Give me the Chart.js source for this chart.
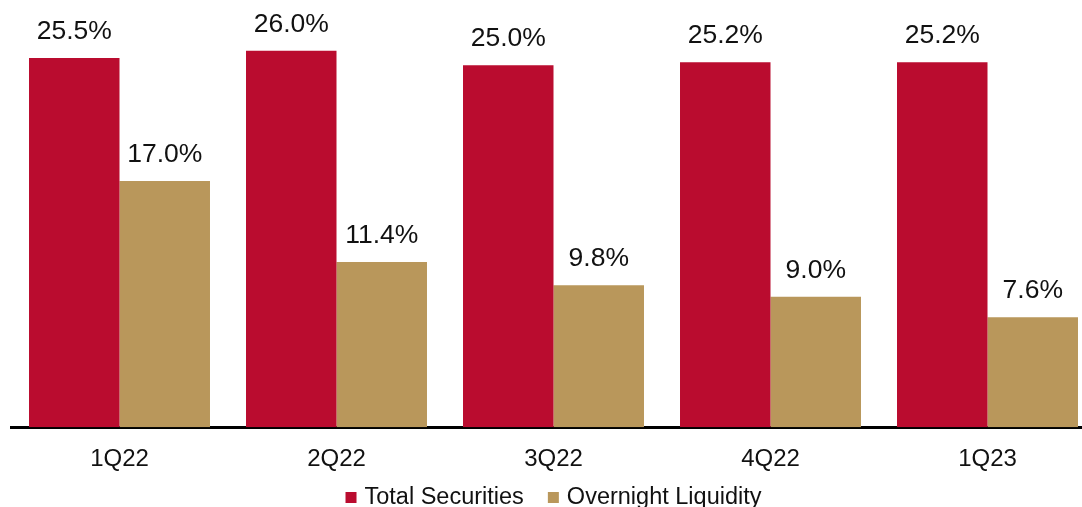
<!DOCTYPE html>
<html>
<head>
<meta charset="utf-8">
<script src="https://cdn.jsdelivr.net/npm/chart.js@4.4.0/dist/chart.umd.min.js"></script>
<style>
  html, body { margin: 0; padding: 0; background: #fff; overflow: hidden; }
  #chart { display: block; }
</style>
</head>
<body>
<canvas id="chart" width="1096" height="507"></canvas>
<script>
// ---------------- Data ----------------
const quarters = ["1Q22", "2Q22", "3Q22", "4Q22", "1Q23"];
const totalSecurities = [25.5, 26.0, 25.0, 25.2, 25.2];
const overnightLiquidity = [17.0, 11.4, 9.8, 9.0, 7.6];

const RED = "#BA0C2F";
const GOLD = "#B9975B";
const FONT = "'Liberation Sans', Arial, sans-serif";

// ---------------- Value labels above bars ----------------
const valueLabels = {
  id: "valueLabels",
  afterDatasetsDraw(chart) {
    const ctx = chart.ctx;
    ctx.save();
    ctx.font = "26.5px " + FONT;
    ctx.fillStyle = "#111";
    ctx.textAlign = "center";
    ctx.textBaseline = "alphabetic";
    chart.data.datasets.forEach((ds, i) => {
      chart.getDatasetMeta(i).data.forEach((bar, j) => {
        ctx.fillText(ds.data[j].toFixed(1) + "%", bar.x, bar.y - 19);
      });
    });
    ctx.restore();
  },
};

// ---------------- Legend along the bottom edge ----------------
const bottomLegend = {
  id: "bottomLegend",
  afterDraw(chart) {
    const ctx = chart.ctx;
    const box = 11, gap = 8, spacing = 24;
    ctx.save();
    ctx.font = "23.5px " + FONT;
    const items = chart.data.datasets.map((ds) => ({
      text: ds.label,
      color: ds.backgroundColor,
      w: ctx.measureText(ds.label).width,
    }));
    let total = spacing * (items.length - 1);
    items.forEach((it) => (total += box + gap + it.w));
    const area = chart.chartArea;
    let x = (area.left + area.right) / 2 - total / 2;
    const y = 504;
    ctx.textBaseline = "alphabetic";
    items.forEach((it) => {
      ctx.fillStyle = it.color;
      ctx.fillRect(x, y - 12, box, box);
      x += box + gap;
      ctx.fillStyle = "#111";
      ctx.fillText(it.text, x, y);
      x += it.w + spacing;
    });
    ctx.restore();
  },
};

// ---------------- Chart ----------------
const ctx = document.getElementById("chart").getContext("2d");
const chart = new Chart(ctx, {
  type: "bar",
  data: {
    labels: quarters,
    datasets: [
      {
        label: "Total Securities",
        data: totalSecurities,
        backgroundColor: RED,
        barPercentage: 1,
        categoryPercentage: 0.834,
      },
      {
        label: "Overnight Liquidity",
        data: overnightLiquidity,
        backgroundColor: GOLD,
        barPercentage: 1,
        categoryPercentage: 0.834,
      },
    ],
  },
  options: {
    responsive: false,
    animation: false,
    layout: { padding: { left: 11, right: 0, top: 0, bottom: 15 } },
    plugins: {
      tooltip: { enabled: false },
      legend: { display: false },
    },
    scales: {
      x: {
        grid: { display: false, drawTicks: false },
        border: { display: true, color: "#000", width: 3 },
        ticks: { color: "#111", font: { family: FONT, size: 24 }, padding: 18 },
      },
      y: {
        display: false,
        min: 0,
        max: 29.5,
      },
    },
  },
  plugins: [valueLabels, bottomLegend],
});
</script>
</body>
</html>
